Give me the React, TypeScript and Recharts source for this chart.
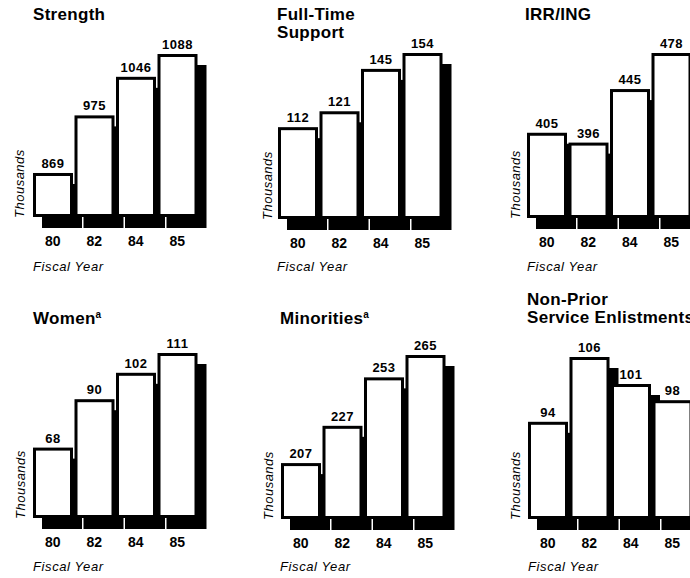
import React from 'react';
import { BarChart, Bar, XAxis, YAxis, LabelList } from 'recharts';

const years = ['80', '82', '84', '85'];
const strength = [869, 975, 1046, 1088];
const fullTimeSupport = [112, 121, 145, 154];
const irrIng = [405, 396, 445, 478];
const women = [68, 90, 102, 111];
const minorities = [207, 227, 253, 265];
const nonPriorEnlistments = [94, 106, 101, 98];

const panelTitles = [
  ['Strength'],
  ['Full-Time', 'Support'],
  ['IRR/ING'],
  ['Women'],
  ['Minorities'],
  ['Non-Prior', 'Service Enlistments'],
];
const footnoteMarks = ['', '', '', 'a', 'a', ''];
const seriesList = [strength, fullTimeSupport, irrIng, women, minorities, nonPriorEnlistments];
const axisFloors = [788, 60, 327, 36, 177, 76];
const yAxisTitle = 'Thousands';
const xAxisTitle = 'Fiscal Year';

const FONT = '"Liberation Sans", Arial, Helvetica, sans-serif';

type Layout = {
  x0: number;
  top: number;
  base: number;
  titleX: number;
  titleY: number;
  thouX: number;
  fiscalX: number;
  fiscalY: number;
};

const layouts: Layout[] = [
  { x0: 33, top: 54, base: 217, titleX: 33, titleY: 6, thouX: 12, fiscalX: 33, fiscalY: 259 },
  { x0: 278, top: 53, base: 219, titleX: 277, titleY: 6, thouX: 260, fiscalX: 277, fiscalY: 259 },
  { x0: 527, top: 53, base: 218, titleX: 525, titleY: 6, thouX: 508, fiscalX: 527, fiscalY: 259 },
  { x0: 33, top: 353, base: 518, titleX: 33, titleY: 310, thouX: 13, fiscalX: 33, fiscalY: 559 },
  { x0: 281, top: 355, base: 519, titleX: 280, titleY: 310, thouX: 261, fiscalX: 280, fiscalY: 559 },
  { x0: 528, top: 357, base: 519, titleX: 527, titleY: 291, thouX: 508, fiscalX: 528, fiscalY: 559 },
];

const ShadowBar = (props: any) => {
  const { x, y, width, height } = props;
  if (width == null || height == null || height <= 0) return null;
  return (
    <g>
      <rect x={x + 9} y={y + 11} width={width} height={height} fill="#000" />
      <rect
        x={x + 1.5}
        y={y + 1.5}
        width={width - 3}
        height={height - 3}
        fill="#fff"
        stroke="#000"
        strokeWidth={3}
      />
    </g>
  );
};

function Panel({ idx }: { idx: number }) {
  const L = layouts[idx];
  const values = seriesList[idx];
  const data = years.map((year, i) => ({ year, value: values[i] }));
  const mTop = 24;
  const mBottom = 40;
  const mLeft = 2;
  const mRight = 24;
  const plotW = 166;
  const plotH = L.base - L.top;
  const width = plotW + mLeft + mRight;
  const height = plotH + mTop + mBottom;
  const titleLines = panelTitles[idx];
  return (
    <>
      <div
        style={{
          position: 'absolute',
          left: L.titleX,
          top: L.titleY,
          fontFamily: FONT,
          fontWeight: 700,
          fontSize: 17,
          lineHeight: '18px',
          letterSpacing: 0.3,
          color: '#000',
          whiteSpace: 'nowrap',
        }}
      >
        {titleLines.map((line, i) => (
          <div key={i}>
            {line}
            {i === titleLines.length - 1 && footnoteMarks[idx] ? (
              <sup style={{ fontSize: 10, verticalAlign: 'top', lineHeight: '10px' }}>{footnoteMarks[idx]}</sup>
            ) : null}
          </div>
        ))}
      </div>
      <div
        style={{
          position: 'absolute',
          left: L.thouX,
          top: L.base + 1,
          transform: 'rotate(-90deg)',
          transformOrigin: 'left top',
          fontFamily: FONT,
          fontStyle: 'italic',
          fontSize: 13,
          lineHeight: '15px',
          letterSpacing: 0.5,
          color: '#000',
          whiteSpace: 'nowrap',
        }}
      >
        {yAxisTitle}
      </div>
      <div
        style={{
          position: 'absolute',
          left: L.fiscalX,
          top: L.fiscalY,
          fontFamily: FONT,
          fontStyle: 'italic',
          fontSize: 13,
          lineHeight: '15px',
          letterSpacing: 0.6,
          color: '#000',
          whiteSpace: 'nowrap',
        }}
      >
        {xAxisTitle}
      </div>
      <div style={{ position: 'absolute', left: L.x0 - 1 - mLeft, top: L.top - mTop }}>
        <BarChart
          width={width}
          height={height}
          data={data}
          margin={{ top: mTop, right: mRight, left: mLeft, bottom: 0 }}
          barCategoryGap={1}
        >
          <XAxis
            dataKey="year"
            height={mBottom}
            axisLine={false}
            tickLine={false}
            tickSize={0}
            tickMargin={19}
            interval={0}
            tick={{ fill: '#000', fontSize: 14, fontWeight: 700, fontFamily: FONT }}
          />
          <YAxis hide type="number" domain={[axisFloors[idx], 'dataMax']} />
          <Bar dataKey="value" isAnimationActive={false} shape={<ShadowBar />}>
            <LabelList
              dataKey="value"
              position="top"
              offset={5}
              style={{ fill: '#000', fontSize: 13, fontWeight: 700, fontFamily: FONT, letterSpacing: 0.5 }}
            />
          </Bar>
        </BarChart>
      </div>
    </>
  );
}

export default function App() {
  return (
    <div
      style={{
        position: 'absolute',
        left: 0,
        top: 0,
        width: 690,
        height: 578,
        overflow: 'hidden',
        background: '#fff',
      }}
    >
      {seriesList.map((_, i) => (
        <Panel key={i} idx={i} />
      ))}
    </div>
  );
}
